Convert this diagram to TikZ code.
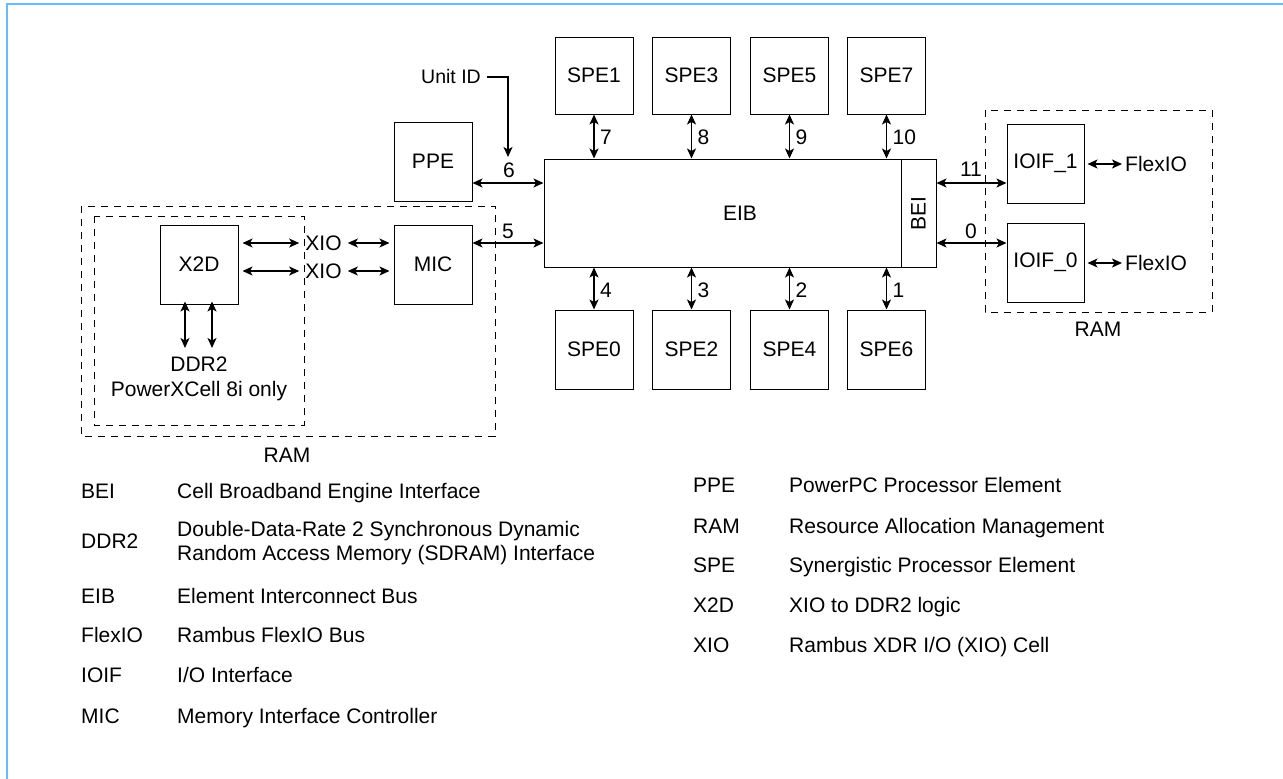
\documentclass[tikz,border=0pt]{standalone}
\usepackage{fontspec}
\setmainfont{Liberation Sans}
\usetikzlibrary{arrows.meta,calc}
\definecolor{framecol}{RGB}{102,187,255}
\begin{document}
\begin{tikzpicture}[x=1pt,y=-1pt,
  font=\fontsize{21}{25}\selectfont,
  box/.style={draw,line width=1pt,inner sep=0pt,minimum width=78pt,minimum height=79pt},
  tip/.tip={Stealth[length=10pt,width=9pt,inset=2.5pt]},
  dbl/.style={line width=1.2pt,tip-tip},
  one/.style={line width=1.2pt,-tip},
  ramline/.style={line width=0.9pt,dash pattern=on 7pt off 6pt},
  lbl/.style={inner sep=0pt},
  leg/.style={inner sep=0pt,anchor=base west}]
\useasboundingbox (0,0) rectangle (1283,779);
\draw[framecol,line width=2pt] (6.5,779) -- (6.5,4) -- (1283,4);

% dashed RAM regions
\draw[ramline] (81,206) rectangle (495,436);
\draw[ramline] (94,216) rectangle (304,425);
\draw[ramline] (985,110) rectangle (1212,312);
\node[lbl] (ramL) at (287,455) {RAM};
\node[lbl] (ramR) at (1098,329) {RAM};

% EIB and BEI
\node[draw,line width=1pt,minimum width=392pt,minimum height=108pt,inner sep=0pt] (EIB) at (740,213) {EIB};
\node[draw,line width=1pt,minimum width=35pt,minimum height=108pt,inner sep=0pt] (BEI) at (918.5,213) {};
\node[lbl,rotate=90] (BEIt) at (918.5,214) {BEI};

% SPEs
\foreach \n/\x in {SPE1/594,SPE3/691.5,SPE5/789.5,SPE7/886.5}
  \node[box,minimum height=77pt] (\n) at (\x,75.5) {\n};
\foreach \n/\x in {SPE0/594,SPE2/691.5,SPE4/789.5,SPE6/886.5}
  \node[box] (\n) at (\x,349.5) {\n};

\foreach \n/\l in {SPE1/7,SPE3/8,SPE5/9,SPE7/10}{
  \draw[dbl] (\n.south) -- (\n.south |- EIB.north);
  \node[lbl,anchor=west] at ($(\n.south)+(6,23)$) {\l};
}
\foreach \n/\l in {SPE0/4,SPE2/3,SPE4/2,SPE6/1}{
  \draw[dbl] (\n.north) -- (\n.north |- EIB.south);
  \node[lbl,anchor=west] at ($(\n.north)+(6,-19)$) {\l};
}

% PPE, MIC
\node[box] (PPE) at (433,161.5) {PPE};
\node[box] (MIC) at (433,264.5) {MIC};
\coordinate (r6) at (544,183);
\coordinate (r5) at (544,243);
\draw[dbl] (PPE.east |- r6) -- (EIB.west |- r6);
\draw[dbl] (MIC.east |- r5) -- (EIB.west |- r5);
\node[lbl] (l6) at (509,170) {6};
\node[lbl] (l5) at (508,231) {5};

% Unit ID
\node[lbl,anchor=east,font=\fontsize{19.5}{23}\selectfont] (uid) at (481,77) {Unit ID};
\coordinate (uidtip) at (508,157);
\draw[one] ([xshift=6pt]uid.east) -| (uidtip);

% X2D and XIO
\node[box] (X2D) at (199,264.5) {X2D};
\node[lbl,inner xsep=6pt] (xioA) at (323.5,243) {XIO};
\node[lbl,inner xsep=6pt] (xioB) at (323.5,271) {XIO};
\draw[dbl] ([xshift=4pt]X2D.east |- xioA) -- (xioA.west);
\draw[dbl] ([xshift=4pt]X2D.east |- xioB) -- (xioB.west);
\draw[dbl] (xioA.east) -- ([xshift=-4pt]MIC.west |- xioA);
\draw[dbl] (xioB.east) -- ([xshift=-4pt]MIC.west |- xioB);
\coordinate (d1) at (185,348);
\coordinate (d2) at (212,348);
\draw[dbl] ([yshift=3pt]X2D.south -| d1) -- (d1);
\draw[dbl] ([yshift=3pt]X2D.south -| d2) -- (d2);
\node[lbl,align=center] (ddr) at (199,378.5) {DDR2\\PowerXCell 8i only};

% IOIF
\node[box,minimum width=77pt] (IOIF1) at (1045.5,163.5) {IOIF\_1};
\node[box,minimum width=77pt] (IOIF0) at (1045.5,262.5) {IOIF\_0};
\coordinate (r11) at (936,183);
\coordinate (r0) at (936,243);
\draw[dbl] (BEI.east |- r11) -- (IOIF1.west |- r11);
\draw[dbl] (BEI.east |- r0) -- (IOIF0.west |- r0);
\node[lbl] (l11) at (971,169) {11};
\node[lbl] (l0) at (971,231) {0};
\node[lbl,anchor=west] (flex1) at (1125,164) {FlexIO};
\node[lbl,anchor=west] (flex0) at (1125,263) {FlexIO};
\draw[dbl] ([xshift=3pt]IOIF1.east |- flex1) -- ([xshift=-3pt]flex1.west);
\draw[dbl] ([xshift=3pt]IOIF0.east |- flex0) -- ([xshift=-3pt]flex0.west);

% legend left
\node[leg] (kBEI) at (81,498.5) {BEI};
\node[leg] (vBEI) at (177,498.5) {Cell Broadband Engine Interface};
\node[leg] (kDDR) at (81,548.5) {DDR2};
\node[leg] (vDDRa) at (177,536.5) {Double-Data-Rate 2 Synchronous Dynamic};
\node[leg] (vDDRb) at (177,560.5) {Random Access Memory (SDRAM) Interface};
\node[leg] (kEIB) at (81,603.5) {EIB};
\node[leg] (vEIB) at (177,603.5) {Element Interconnect Bus};
\node[leg] (kFlex) at (81,642.5) {FlexIO};
\node[leg] (vFlex) at (177,642.5) {Rambus FlexIO Bus};
\node[leg] (kIOIF) at (81,682.5) {IOIF};
\node[leg] (vIOIF) at (177,682.5) {I/O Interface};
\node[leg] (kMIC) at (81,723.5) {MIC};
\node[leg] (vMIC) at (177,723.5) {Memory Interface Controller};
% legend right
\node[leg] (kPPE) at (693,492.5) {PPE};
\node[leg] (vPPE) at (789,492.5) {PowerPC Processor Element};
\node[leg] (kRAM) at (693,533.5) {RAM};
\node[leg] (vRAM) at (789,533.5) {Resource Allocation Management};
\node[leg] (kSPE) at (693,572.5) {SPE};
\node[leg] (vSPE) at (789,572.5) {Synergistic Processor Element};
\node[leg] (kX2D) at (693,612.5) {X2D};
\node[leg] (vX2D) at (789,612.5) {XIO to DDR2 logic};
\node[leg] (kXIO) at (693,652.5) {XIO};
\node[leg] (vXIO) at (789,652.5) {Rambus XDR I/O (XIO) Cell};
\end{tikzpicture}
\end{document}
